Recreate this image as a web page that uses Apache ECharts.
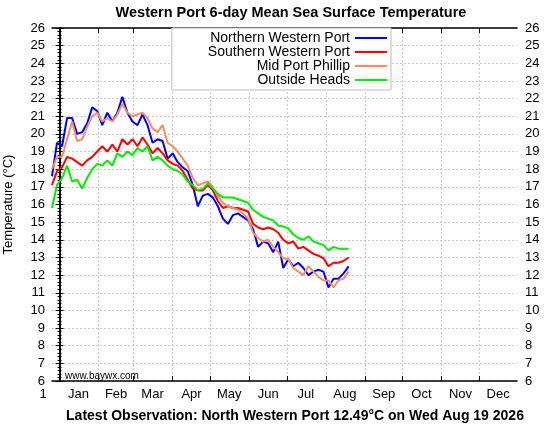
<!DOCTYPE html>
<html>
<head>
<meta charset="utf-8">
<script src="https://cdn.jsdelivr.net/npm/echarts@6/dist/echarts.min.js"></script>
<style>
  html, body { margin: 0; padding: 0; background: #fff; }
  #chart { width: 548px; height: 424px; }
</style>
</head>
<body>
<div id="chart"></div>
<script>
// day of year (0 = Jan 1), every 4th day
const days = [-6, -2, 2, 6, 10, 14, 18, 22, 26, 30, 34, 38, 42, 46, 50, 54, 58, 62, 66, 70,
              74, 78, 82, 86, 90, 94, 98, 102, 106, 110, 114, 118, 122, 126, 130, 134, 138, 142, 146, 150,
              154, 158, 162, 166, 170, 174, 178, 182, 186, 190, 194, 198, 202, 206, 210, 214, 218, 222, 226, 230];

const northernWP = [17.6, 19.5, 19.3, 20.9, 20.9, 20.0, 20.1, 20.6, 21.5, 21.3, 20.5, 21.2, 20.7, 21.2, 22.1, 21.2, 20.7, 20.5, 21.1, 20.5,
                    19.5, 19.7, 19.6, 18.6, 18.9, 18.4, 18.1, 17.9, 17.1, 15.9, 16.5, 16.6, 16.4, 15.9, 15.2, 14.9, 15.4, 15.5, 15.3, 15.1,
                    14.6, 13.6, 13.9, 13.8, 13.3, 13.9, 12.4, 12.9, 12.5, 12.7, 12.4, 12.0, 12.2, 12.3, 12.2, 11.3, 11.8, 11.8, 12.1, 12.49];
const southernWP = [17.1, 17.9, 18.1, 18.7, 18.6, 18.4, 18.2, 18.5, 18.7, 19.0, 19.3, 19.0, 19.4, 19.0, 19.7, 19.4, 19.7, 19.3, 19.8, 19.4,
                    18.9, 19.2, 18.9, 18.5, 18.3, 18.2, 17.9, 17.4, 16.9, 16.8, 16.8, 17.1, 16.8, 16.2, 15.8, 15.9, 15.8, 15.8, 15.7, 15.6,
                    14.9, 14.7, 14.6, 14.7, 14.6, 14.4, 14.0, 13.8, 13.9, 13.5, 13.6, 13.4, 13.2, 13.1, 12.95, 12.5, 12.7, 12.7, 12.8, 13.0];
const midPortPhillip = [18.0, 18.7, 18.7, 19.7, 20.7, 19.6, 19.7, 20.4, 21.0, 21.2, 20.7, 20.9, 20.7, 21.1, 21.7, 21.2, 21.0, 21.1, 21.2, 20.9,
                        20.3, 20.1, 20.5, 19.5, 19.3, 19.0, 18.6, 18.2, 17.5, 17.1, 17.2, 17.3, 17.0, 16.5, 16.1, 15.9, 15.8, 15.7, 15.5, 15.2,
                        14.4, 14.1, 13.9, 14.0, 13.6, 13.3, 12.95, 12.9, 12.4, 12.2, 12.0, 12.5, 12.2, 11.9, 11.7, 11.7, 11.3, 11.7, 11.8, 12.2];
const outsideHeads = [15.8, 17.1, 17.5, 18.2, 17.3, 17.4, 16.9, 17.5, 18.0, 18.3, 18.2, 18.5, 18.2, 18.9, 18.7, 19.0, 18.8, 19.2, 19.0, 19.3,
                      18.5, 18.7, 18.5, 18.2, 18.0, 17.9, 17.7, 17.3, 17.1, 16.8, 16.9, 17.2, 16.9, 16.6, 16.4, 16.4, 16.4, 16.3, 16.2, 16.1,
                      15.7, 15.5, 15.3, 15.2, 15.1, 14.8, 14.75, 14.65, 14.3, 14.1, 14.0, 14.2, 13.9, 13.8, 13.7, 13.4, 13.6, 13.5, 13.5, 13.5];

const monthStarts = [0, 31, 59, 90, 120, 151, 181, 212, 243, 273, 304, 334];
const monthMids = [15, 45, 74, 105, 135, 166, 196, 227, 258, 288, 319, 349];
const monthNames = ['Jan', 'Feb', 'Mar', 'Apr', 'May', 'Jun', 'Jul', 'Aug', 'Sep', 'Oct', 'Nov', 'Dec'];
const seriesNames = ['Northern Western Port', 'Southern Western Port', 'Mid Port Phillip', 'Outside Heads'];
const seriesColors = ['#0000ff', '#ff0000', '#fa8c64', '#00ee00'];

const FONT = 'Liberation Sans, Arial, sans-serif';
const xMin = -6, xMax = 364;

function pair(vals) {
    return days.map((d, i) => [d, vals[i]]);
}

const gridDash = { color: '#c8c8c8', type: [2, 2], width: 1 };
const frame = { show: true, lineStyle: { color: '#000', width: 1.5 } };

let chart = echarts.init(document.getElementById('chart'), null, { renderer: 'canvas' });

let option = {
    animation: false,
    backgroundColor: '#fff',
    textStyle: { fontFamily: FONT },
    title: [
        { text: 'Western Port 6-day Mean Sea Surface Temperature', left: 286, top: 0, textAlign: 'center',
          textStyle: { fontSize: 14.5, fontWeight: 'bold', color: '#000', fontFamily: FONT } },
        { text: 'Latest Observation: North Western Port 12.49°C on Wed Aug 19 2026', left: 290, top: 404, textAlign: 'center',
          textStyle: { fontSize: 14, fontWeight: 'bold', color: '#000', fontFamily: FONT } },
        { text: 'www.baywx.com', left: 60, top: 366,
          textStyle: { fontSize: 10, fontWeight: 'normal', color: '#000', fontFamily: FONT } }
    ],
    legend: {
        orient: 'vertical', right: 157, top: 28, align: 'right',
        icon: 'rect', itemWidth: 32, itemHeight: 2, itemGap: 0,
        backgroundColor: '#fff', borderColor: '#bbb', borderWidth: 1,
        padding: [3, 4, 3, 36],
        textStyle: { fontSize: 14, color: '#000', fontFamily: FONT, lineHeight: 14 },
        data: seriesNames
    },
    grid: { left: 52, right: 31, top: 28, bottom: 43, containLabel: false, outerBoundsMode: 'none' },
    xAxis: [
        {
            type: 'value', min: xMin, max: xMax, position: 'bottom',
            axisLine: frame,
            axisTick: { inside: true, length: 5, customValues: monthStarts, lineStyle: { color: '#000' } },
            splitLine: { show: true, lineStyle: gridDash },
            axisLabel: {
                customValues: [xMin].concat(monthMids), margin: 7,
                fontSize: 13, color: '#000', fontFamily: FONT,
                formatter: v => v === xMin ? '{one|1}' : monthNames[monthMids.indexOf(v)],
                rich: { one: { fontSize: 13, color: '#000', fontFamily: FONT, padding: [0, 18, 0, 0] } }
            }
        },
        {
            type: 'value', min: xMin, max: xMax, position: 'top',
            axisLine: frame,
            axisTick: { inside: true, length: 5, customValues: monthStarts, lineStyle: { color: '#000' } },
            axisLabel: { show: false },
            splitLine: { show: false }
        }
    ],
    yAxis: [
        {
            type: 'value', min: 6, max: 26, interval: 1, position: 'left',
            name: 'Temperature (°C)', nameLocation: 'middle', nameGap: 37,
            nameTextStyle: { fontSize: 13, color: '#000', fontFamily: FONT },
            axisLine: frame,
            axisTick: { inside: true, length: 4, lineStyle: { color: '#000' } },
            minorTick: { show: true, splitNumber: 5, length: 2, lineStyle: { color: '#000' } },
            splitLine: { show: true, lineStyle: gridDash },
            axisLabel: { fontSize: 13, color: '#000', fontFamily: FONT, margin: 7 }
        },
        {
            type: 'value', min: 6, max: 26, interval: 1, position: 'right',
            axisLine: frame,
            axisTick: { inside: true, length: 4, lineStyle: { color: '#000' } },
            minorTick: { show: true, splitNumber: 5, length: 2, lineStyle: { color: '#000' } },
            splitLine: { show: false },
            axisLabel: { fontSize: 13, color: '#000', fontFamily: FONT, margin: 8 }
        }
    ],
    series: [northernWP, southernWP, midPortPhillip, outsideHeads].map((vals, i) => ({
        name: seriesNames[i],
        type: 'line',
        xAxisIndex: 0, yAxisIndex: 0,
        data: pair(vals),
        symbol: 'none',
        color: seriesColors[i],
        lineStyle: { width: 2, color: seriesColors[i] }
    }))
};

chart.setOption(option);
</script>
</body>
</html>
